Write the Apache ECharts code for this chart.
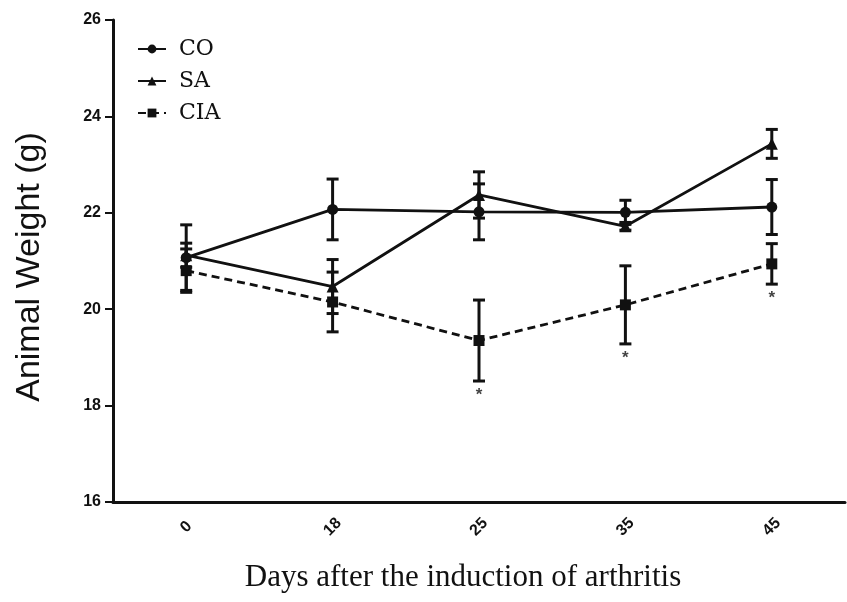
<!DOCTYPE html>
<html>
<head>
<meta charset="utf-8">
<script src="https://cdn.jsdelivr.net/npm/echarts@6/dist/echarts.min.js"></script>
<style>
  html, body { margin: 0; padding: 0; background: #fff; }
  #chart { width: 847px; height: 602px; }
</style>
</head>
<body>
<div id="chart"></div>
<script>
// days after induction
const days = ['0', '18', '25', '35', '45'];

// mean weight (g) and error (+/-) per group
const coMean = [21.07, 22.07, 22.02, 22.01, 22.12];
const coErr = [0.68, 0.63, 0.58, 0.25, 0.57];
const saMean = [21.12, 20.47, 22.37, 21.72, 23.43];
const saErr = [0.25, 0.56, 0.48, 0.08, 0.3];
const ciaMean = [20.8, 20.15, 19.35, 20.09, 20.94];
const ciaErr = [0.45, 0.62, 0.84, 0.81, 0.42];
// significance marks under CIA
const ciaStar = [false, false, true, true, true];

const ink = '#111';

const errData = (mean, err) => mean.map((m, i) => [i, m, err[i]]);

const renderErr = (params, api) => {
  const x = api.value(0);
  const m = api.value(1);
  const e = api.value(2);
  const top = api.coord([x, m + e]);
  const bot = api.coord([x, m - e]);
  const cap = 6;
  const style = { stroke: ink, lineWidth: 3 };
  return {
    type: 'group',
    children: [
      { type: 'line', shape: { x1: top[0], y1: top[1], x2: bot[0], y2: bot[1] }, style },
      { type: 'line', shape: { x1: top[0] - cap, y1: top[1], x2: top[0] + cap, y2: top[1] }, style },
      { type: 'line', shape: { x1: bot[0] - cap, y1: bot[1], x2: bot[0] + cap, y2: bot[1] }, style },
    ],
  };
};

const errSeries = (mean, err) => ({
  type: 'custom',
  renderItem: renderErr,
  data: errData(mean, err),
  encode: { x: 0, y: 1 },
  silent: true,
  z: 1,
});

const lineSeries = (name, mean, symbol, size, dashed) => ({
  name,
  type: 'line',
  data: mean,
  symbol,
  symbolSize: size,
  itemStyle: { color: ink },
  lineStyle: { color: ink, width: 2.8, type: dashed ? [8, 5] : 'solid' },
  z: 3,
});

const chart = echarts.init(document.getElementById('chart'));

chart.setOption({
  animation: false,
  backgroundColor: '#fff',
  grid: { left: 113, right: 2, top: 20, bottom: 100 },
  legend: {
    orient: 'vertical',
    left: 132,
    top: 33,
    itemWidth: 28,
    itemHeight: 11,
    itemGap: 10,
    data: ['CO', 'SA', 'CIA'],
    textStyle: {
      fontFamily: 'DejaVu Serif',
      fontSize: 22,
      color: '#111',
      padding: [0, 0, 0, 8],
    },
  },
  xAxis: {
    type: 'category',
    data: days,
    boundaryGap: true,
    name: 'Days after the induction of arthritis',
    nameLocation: 'middle',
    nameGap: 60,
    nameTextStyle: {
      fontFamily: 'Liberation Serif',
      fontSize: 31,
      color: '#111',
      verticalAlign: 'top',
      padding: [0, 32, 0, 0],
    },
    axisLine: { lineStyle: { color: ink, width: 3 } },
    axisTick: { alignWithLabel: true, length: 8, lineStyle: { color: ink, width: 2 } },
    axisLabel: {
      rotate: 45,
      align: 'center',
      verticalAlign: 'middle',
      margin: 25,
      fontFamily: 'Liberation Sans Narrow, Liberation Sans, sans-serif',
      fontWeight: 'bold',
      fontSize: 16,
      color: '#111',
    },
    splitLine: { show: false },
  },
  yAxis: {
    type: 'value',
    min: 16,
    max: 26,
    interval: 2,
    name: 'Animal Weight (g)',
    nameLocation: 'middle',
    nameGap: 66,
    nameTextStyle: {
      fontFamily: 'Liberation Sans, Arial, sans-serif',
      fontSize: 34,
      color: '#111',
      padding: [0, 12, 0, 0],
    },
    axisLine: { show: true, lineStyle: { color: ink, width: 3 } },
    axisTick: { show: true, length: 8, lineStyle: { color: ink, width: 2 } },
    axisLabel: {
      margin: 12,
      fontFamily: 'Liberation Sans Narrow, Liberation Sans, sans-serif',
      fontWeight: 'bold',
      fontSize: 16,
      color: '#111',
    },
    splitLine: { show: false },
  },
  series: [
    errSeries(coMean, coErr),
    errSeries(saMean, saErr),
    errSeries(ciaMean, ciaErr),
    lineSeries('CO', coMean, 'circle', 11, false),
    lineSeries('SA', saMean, 'triangle', 12, false),
    lineSeries('CIA', ciaMean, 'rect', 11, true),
    {
      type: 'scatter',
      silent: true,
      symbolSize: 1,
      itemStyle: { color: 'rgba(0,0,0,0)' },
      data: ciaMean
        .map((m, i) => (ciaStar[i] ? [i, m - ciaErr[i]] : null))
        .filter(Boolean),
      label: {
        show: true,
        formatter: '*',
        position: 'bottom',
        distance: 5,
        fontFamily: 'Liberation Sans, sans-serif',
        fontSize: 17,
        fontWeight: 'bold',
        color: ink,
      },
      z: 4,
    },
  ],
});
</script>
</body>
</html>
